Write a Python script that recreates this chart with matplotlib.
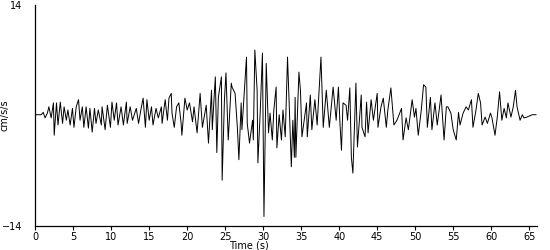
import matplotlib
matplotlib.use('Agg')
import matplotlib.pyplot as plt

# peak / trough readings of the acceleration trace (time in s, value in cm/s/s)
time_s = [
    0.0, 0.8, 1.05, 1.3, 1.6, 1.8, 2.1, 2.4, 2.5, 2.8, 3.0, 3.3, 3.6, 3.8, 4.1, 4.3,
    4.6, 4.9, 5.1, 5.4, 5.7, 5.9, 6.2, 6.4, 6.7, 7.0, 7.2, 7.5, 7.8, 8.0, 8.3, 8.7,
    8.8, 9.2, 9.5, 9.9, 10.1, 10.4, 10.7, 10.9, 11.3, 11.6, 12.0, 12.1, 12.5, 12.8,
    13.3, 13.6, 13.9, 14.2, 14.5, 14.7, 15.0, 15.3, 15.5, 15.9, 16.2, 16.6, 16.7,
    17.1, 17.4, 17.6, 17.9, 18.0, 18.3, 18.6, 18.9, 19.2, 19.3, 19.7, 20.0, 20.3,
    20.7, 20.9, 21.3, 21.7, 22.0, 22.5, 22.8, 23.2, 23.3, 23.7, 23.9, 24.1, 24.5,
    24.6, 24.9, 25.1, 25.4, 25.8, 25.9, 26.3, 26.6, 26.8, 27.1, 27.2, 27.8, 27.9,
    28.2, 28.6, 28.7, 28.9, 29.2, 29.3, 29.6, 29.9, 30.1, 30.4, 30.7, 30.9, 31.2,
    31.4, 31.7, 31.8, 32.1, 32.4, 32.6, 32.9, 33.2, 33.4, 33.7, 33.9, 34.1, 34.2,
    34.3, 34.7, 34.9, 35.1, 35.7, 35.8, 36.2, 36.4, 36.8, 37.1, 37.6, 37.9, 38.3,
    38.7, 39.2, 39.6, 39.9, 40.1, 40.3, 40.5, 40.9, 41.1, 41.4, 41.6, 41.8, 42.2,
    42.4, 42.9, 43.0, 43.4, 43.6, 43.8, 44.2, 44.5, 45.0, 45.1, 45.5, 45.8, 46.2,
    46.4, 46.8, 47.2, 47.6, 48.2, 48.4, 48.8, 49.1, 49.6, 49.9, 50.1, 50.4, 50.8,
    51.1, 51.4, 51.6, 52.0, 52.2, 52.6, 52.9, 53.4, 53.8, 54.1, 54.3, 54.7, 55.0,
    55.4, 55.7, 55.9, 56.3, 56.7, 57.0, 57.4, 57.6, 58.0, 58.3, 58.6, 58.8, 59.2,
    59.5, 59.9, 60.1, 60.5, 60.8, 61.1, 61.4, 61.7, 62.0, 62.2, 62.6, 62.9, 63.2,
    63.4, 63.8, 64.1, 64.3, 64.7, 65.4, 65.9,
]
accel = [
    0.1, 0.1, 0.4, -0.3, 0.3, 1.1, -0.3, 1.6, -2.5, 1.6, -1.2, 1.7, -1.0, 1.1, -0.6, 0.7,
    -1.2, 0.9, -1.5, 1.1, 2.0, -0.6, 1.1, -1.5, 1.1, -1.6, 0.9, -2.1, 0.9, -1.0, 0.7, -1.2,
    1.1, -1.8, 1.3, -1.5, 1.7, -0.6, 1.6, -1.2, 1.1, -1.2, 1.7, -1.0, 1.1, -0.6,
    0.9, -1.0, 0.7, 2.2, -1.5, 2.0, -0.6, 1.1, -1.2, 0.9, -0.3, 1.1, -1.0,
    2.0, -0.6, 2.2, 2.8, 0.3, -1.5, 1.1, 1.6, -1.0, -2.5, 2.2, 0.7, 1.6,
    -0.8, 1.1, -2.2, 2.8, -1.5, 1.3, -3.5, 3.2, -1.8, 4.9, -4.7, 2.3, 4.9,
    -8.2, 2.0, 5.4, -3.1, 4.1, 3.6, 2.8, -1.5, -5.6, 1.6, -1.8, 7.4, -1.0,
    -3.5, -0.6, -3.1, 8.3, 3.2, -6.0, 0.3, 7.9, -12.8, 6.6, -2.2, 0.3, -3.1,
    0.7, 3.6, -4.1, 0.1, -3.1, 0.7, -2.7, 7.4, 2.0, -6.5, -0.6, -5.3, 2.3,
    -5.3, 5.5, 3.2, -2.7, 1.6, -2.7, 2.6, -1.8, 2.0, -1.2, 7.4, -1.5, 3.2,
    -1.5, 3.6, -0.6, 3.6, -1.0, -4.4, 1.6, 1.3, -0.6, 3.5, -5.3, -7.3, 4.1,
    -4.0, 2.6, -1.5, -2.7, 1.7, -2.2, 2.0, -0.6, 2.8, -1.5, 1.1, 2.2, -1.5,
    0.7, 3.5, -1.2, -0.6, 0.9, -3.1, -0.3, -1.8, 2.0, -0.2, 0.9, -2.5, 0.7,
    3.9, 3.6, -1.5, 2.3, -1.8, 1.6, -1.2, 2.6, -3.1, 1.1, 1.1, 0.3, -1.8,
    -3.1, 0.4, -1.2, 0.3, 1.1, 0.7, 2.0, -1.5, 0.7, 2.8, 1.6, -1.2, -0.2,
    -1.0, 0.3, -0.3, -2.5, -0.2, 3.0, -0.6, 0.9, -0.3, 1.6, -0.2, 1.1, 3.2,
    1.1, -0.6, 0.1, -0.3, -0.2, 0.1, 0.1,
]

fig = plt.figure(figsize=(5.5, 2.5), dpi=100)
ax = fig.add_axes([0.064, 0.096, 0.912, 0.884])

ax.plot(time_s, accel, color='black', linewidth=0.7)

ax.set_xlim(0, 66)
ax.set_ylim(-14, 14)
ax.set_xticks(range(0, 70, 5))
ax.set_yticks([-14, 14])
ax.tick_params(axis='x', direction='out', length=3, width=0.8, labelsize=7, pad=1)
ax.tick_params(axis='y', length=0, labelsize=7, pad=9)

for side in ['top', 'right']:
    ax.spines[side].set_visible(False)
for side in ['left', 'bottom']:
    ax.spines[side].set_linewidth(0.9)

ax.set_xlabel('Time (s)', fontsize=7)
ax.xaxis.set_label_coords(0.427, -0.065)
ax.set_ylabel('cm/s/s', fontsize=7)
ax.yaxis.set_label_coords(-0.052, 0.5)

fig.savefig('out.png', dpi=100)
